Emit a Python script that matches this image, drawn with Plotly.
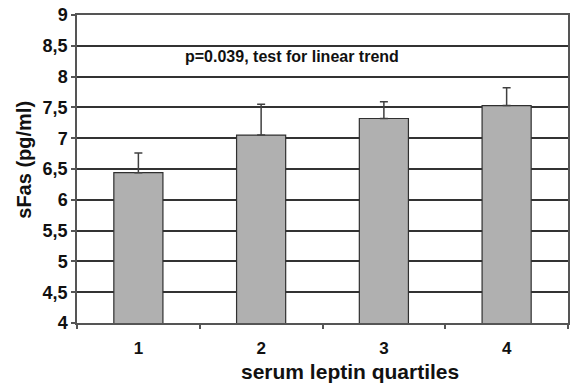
import plotly.graph_objects as go

categories = ["1", "2", "3", "4"]
values = [6.44, 7.05, 7.32, 7.53]
errors = [0.32, 0.50, 0.27, 0.29]
y_tickvals = [4, 4.5, 5, 5.5, 6, 6.5, 7, 7.5, 8, 8.5, 9]
y_ticktext = ["4", "4,5", "5", "5,5", "6", "6,5", "7", "7,5", "8", "8,5", "9"]
annotation_text = "p=0.039, test for linear trend"
x_title = "serum leptin quartiles"
y_title = "sFas (pg/ml)"

font_family = "Liberation Sans, Arial, sans-serif"

fig = go.Figure()
fig.add_trace(go.Bar(
    x=categories, y=values,
    marker=dict(color="#b0b0b0", line=dict(color="#303030", width=1.2)),
    width=0.4,
    error_y=dict(type="data", symmetric=False, array=errors, arrayminus=[0]*4,
                 color="#404040", thickness=1.5, width=4),
))

fig.add_annotation(
    x=0.36, y=8.32, xref="x", yref="y", text="<b>" + annotation_text + "</b>",
    showarrow=False, xanchor="left", yanchor="middle",
    font=dict(family=font_family, size=16, color="#111"),
)
fig.add_annotation(
    x=0.555, y=-0.159, xref="paper", yref="paper", text="<b>" + x_title + "</b>",
    showarrow=False, xanchor="center", yanchor="middle",
    font=dict(family=font_family, size=21, color="#111"),
)
fig.add_annotation(
    x=-0.108, y=0.53, xref="paper", yref="paper", text="<b>" + y_title + "</b>",
    showarrow=False, xanchor="center", yanchor="middle", textangle=-90,
    font=dict(family=font_family, size=20, color="#111"),
)

fig.update_layout(
    width=571, height=384,
    margin=dict(l=77, r=3, t=15, b=61),
    paper_bgcolor="white", plot_bgcolor="white",
    showlegend=False, bargap=0.6,
    font=dict(family=font_family, color="#111"),
)
fig.update_xaxes(
    type="category", tickson="boundaries", ticks="outside", ticklen=4,
    tickcolor="#555", tickwidth=1.5,
    tickvals=categories, ticktext=["<b>" + c + "</b>" for c in categories],
    showline=True, linecolor="#555", linewidth=1.5, mirror=True,
    showgrid=False, automargin=False, ticklabelstandoff=9,
    tickfont=dict(size=17, family=font_family),
)
fig.update_yaxes(
    range=[4, 9], tickvals=y_tickvals, ticktext=["<b>" + t + "</b>" for t in y_ticktext],
    ticks="outside", ticklen=4, tickcolor="#555", tickwidth=1.5,
    showline=True, linecolor="#555", linewidth=1.5, mirror=True,
    showgrid=True, gridcolor="#333333", gridwidth=1.5, automargin=False,
    tickfont=dict(size=18, family=font_family),
)

fig.write_html(
    "out.html",
    config={"displayModeBar": False},
    post_script="document.body.style.margin='0';document.body.style.overflow='hidden';",
)
